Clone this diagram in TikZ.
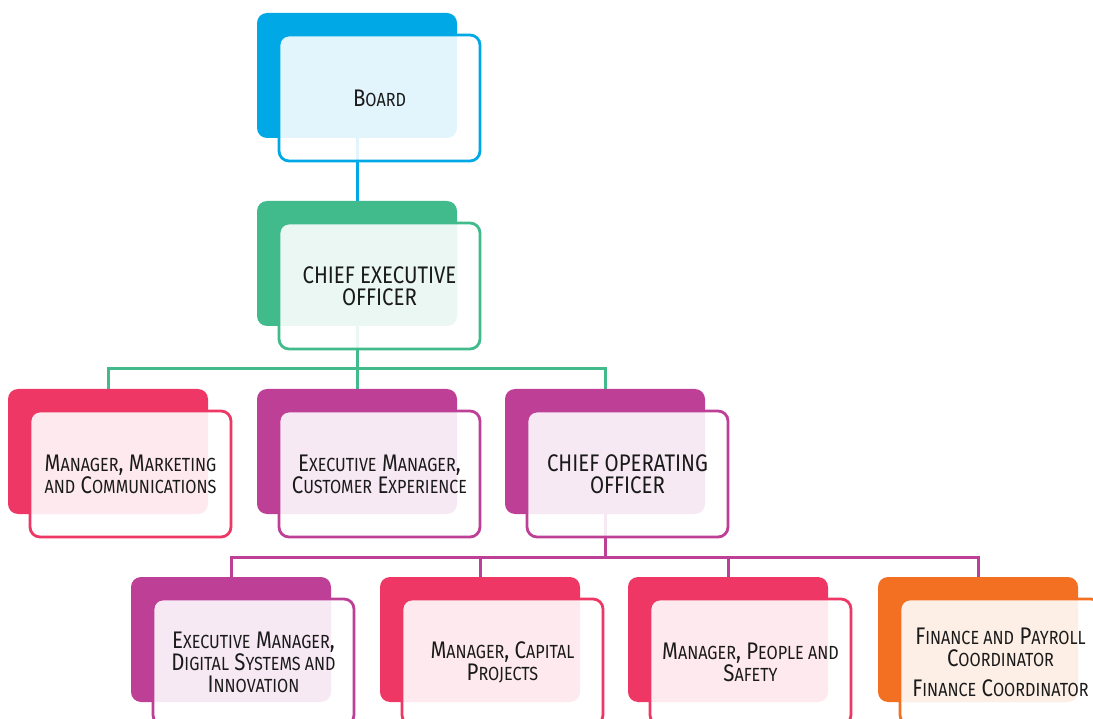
\documentclass[tikz,border=0pt]{standalone}
\usepackage{fontspec}
\setmainfont[FakeStretch=0.85]{Fira Sans}
\usetikzlibrary{backgrounds}
\definecolor{cblue}{HTML}{00A9E6}
\definecolor{cgreen}{HTML}{41BB8C}
\definecolor{cred}{HTML}{EF3765}
\definecolor{cmag}{HTML}{BD3F96}
\definecolor{corange}{HTML}{F37022}
\definecolor{ctext}{HTML}{1A1A1A}
\newcommand\sm[1]{{\fontsize{19}{22}\selectfont #1}}
\tikzset{
  solidbox/.style={fill=#1, draw=none, rounded corners=10pt, anchor=north west,
    minimum width=200pt, minimum height=125pt, inner sep=0pt, outer sep=0pt},
  outbox/.style={draw=#1, line width=2.8pt, fill=white, fill opacity=0.89, draw opacity=1,
    text opacity=1, rounded corners=10pt, anchor=north west, minimum width=201pt,
    minimum height=126pt, inner sep=0pt, outer sep=0pt, align=center, text=ctext,
    font=\fontsize{24}{22}\selectfont},
  conn/.style={draw=#1, line width=3pt}
}
\newcommand\orgbox[5]{%
  \node[solidbox=#2] (#1s) at (#3,#4) {};
  \node[outbox=#2] (#1) at (#3+22,#4+22) {#5};}
\begin{document}
\begin{tikzpicture}[x=1pt,y=-1pt]
\useasboundingbox (0,0) rectangle (1093,719);
\clip (0,0) rectangle (1093,719);
\orgbox{board}{cblue}{257}{13}{B\sm{OARD}}
\orgbox{ceo}{cgreen}{257}{201}{CHIEF EXECUTIVE\\OFFICER}
\orgbox{mmc}{cred}{8}{389}{M\sm{ANAGER}, M\sm{ARKETING}\\\sm{AND} C\sm{OMMUNICATIONS}}
\orgbox{emce}{cmag}{257}{389}{E\sm{XECUTIVE} M\sm{ANAGER},\\C\sm{USTOMER} E\sm{XPERIENCE}}
\orgbox{coo}{cmag}{505}{389}{CHIEF OPERATING\\OFFICER}
\orgbox{emds}{cmag}{131}{577}{E\sm{XECUTIVE} M\sm{ANAGER},\\D\sm{IGITAL} S\sm{YSTEMS AND}\\I\sm{NNOVATION}}
\orgbox{mcp}{cred}{380}{577}{M\sm{ANAGER}, C\sm{APITAL}\\P\sm{ROJECTS}}
\orgbox{mps}{cred}{628}{577}{M\sm{ANAGER}, P\sm{EOPLE AND}\\S\sm{AFETY}}
\orgbox{fin}{corange}{878}{577}{F\sm{INANCE AND} P\sm{AYROLL}\\C\sm{OORDINATOR}\\[8pt]F\sm{INANCE} C\sm{OORDINATOR}}
\coordinate (j1) at (357,369);
\coordinate (j2) at (605,557);
\begin{pgfonlayer}{background}
\draw[conn=cblue] (boards.south) -- (ceos.north);
\draw[conn=cgreen] (ceos.south) -- (emces.north);
\draw[conn=cgreen] (mmcs.north) -- (mmcs.north |- j1) -- (coos.north |- j1) -- (coos.north);
\draw[conn=cmag] (coos.south) -- (j2);
\draw[conn=cmag] (emdss.north) -- (emdss.north |- j2) -- (fins.north |- j2) -- (fins.north);
\draw[conn=cmag] (mcps.north) -- (mcps.north |- j2);
\draw[conn=cmag] (mpss.north) -- (mpss.north |- j2);
\end{pgfonlayer}
\end{tikzpicture}
\end{document}
